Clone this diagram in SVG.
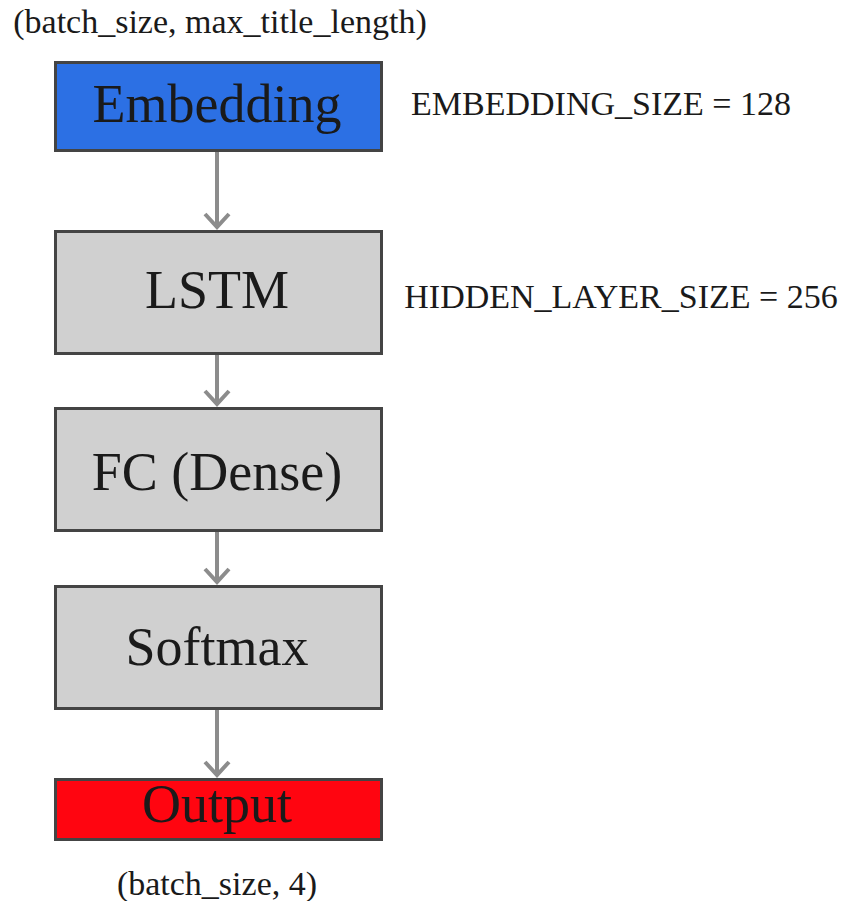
<svg xmlns="http://www.w3.org/2000/svg" width="844" height="901" viewBox="0 0 844 901">
<style>
.box{stroke:#444;stroke-width:3}
.gray{fill:#d0d0d0}
.t{font-family:"Liberation Serif","Times New Roman",serif;fill:#1a1a1a;text-anchor:middle}
.big{font-size:54px}
.lab{font-size:34px}
.conn{stroke:#8c8c8c;stroke-width:4;fill:none}
</style>
<rect width="844" height="901" fill="#fff"/>
<text class="t lab" x="220" y="33">(batch_size, max_title_length)</text>
<text class="t lab" x="601" y="115">EMBEDDING_SIZE = 128</text>
<text class="t lab" x="621" y="308">HIDDEN_LAYER_SIZE = 256</text>
<text class="t lab" x="217" y="895">(batch_size, 4)</text>
<g id="connectors">
<path class="conn" d="M217 151V228M205 214L217 227L229 214"/>
<path class="conn" d="M217 354V405M205 391L217 404L229 391"/>
<path class="conn" d="M217 531V583M205 569L217 582L229 569"/>
<path class="conn" d="M217 709V776M205 762L217 775L229 762"/>
</g>
<g id="embedding"><rect class="box" x="55.5" y="62.5" width="326" height="88" fill="#2c70e4"/><text class="t big" x="217" y="122">Embedding</text></g>
<g id="lstm"><rect class="box gray" x="55.5" y="231.5" width="326" height="122"/><text class="t big" x="217" y="308">LSTM</text></g>
<g id="fc"><rect class="box gray" x="55.5" y="408.5" width="326" height="122"/><text class="t big" x="217" y="490">FC (Dense)</text></g>
<g id="softmax"><rect class="box gray" x="55.5" y="586.5" width="326" height="122"/><text class="t big" x="217" y="665">Softmax</text></g>
<g id="output"><rect class="box" x="55.5" y="779.5" width="326" height="60" fill="#ff0510"/><text class="t big" x="217" y="822">Output</text></g>
</svg>
